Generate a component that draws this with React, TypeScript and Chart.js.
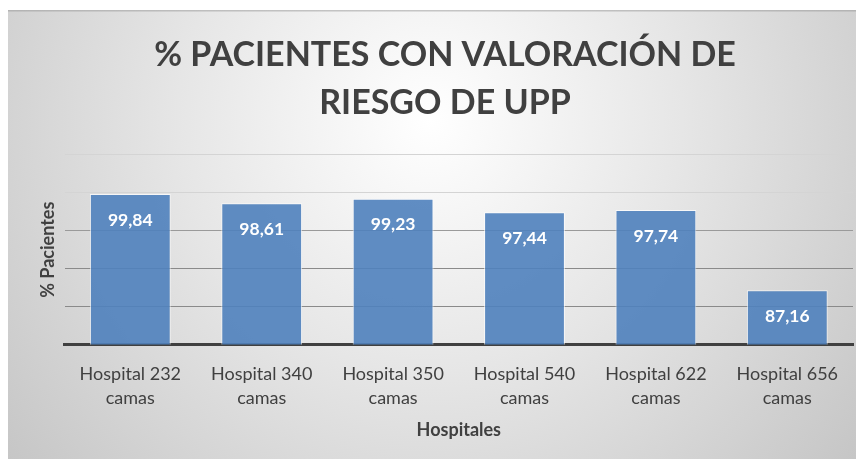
import React, { useEffect, useRef } from "react";
import { Chart, registerables } from "chart.js";

Chart.register(...registerables);

const categories: string[][] = [
  ["Hospital 232", "camas"],
  ["Hospital 340", "camas"],
  ["Hospital 350", "camas"],
  ["Hospital 540", "camas"],
  ["Hospital 622", "camas"],
  ["Hospital 656", "camas"],
];
const values: number[] = [99.84, 98.61, 99.23, 97.44, 97.74, 87.16];
const titleLines: string[] = ["% PACIENTES CON VALORACIÓN DE", "RIESGO DE UPP"];
const yTitle = "% Pacientes";
const xTitle = "Hospitales";

const FONT = "Lato, 'Open Sans', sans-serif";

const bgPlugin = {
  id: "bgGradient",
  beforeDraw(chart: any) {
    const { ctx, width, height } = chart;
    ctx.save();
    const g = ctx.createRadialGradient(422, 110, 0, 422, 110, 560);
    g.addColorStop(0, "#ffffff");
    g.addColorStop(0.45, "#e6e6e6");
    g.addColorStop(1, "#c4c4c4");
    ctx.fillStyle = g;
    ctx.fillRect(0, 0, width, height);
    ctx.fillStyle = "rgba(150,150,150,0.5)";
    ctx.fillRect(0, 0, width, 1.5);
    ctx.restore();
  },
};

const labelPlugin = {
  id: "valueLabels",
  afterDatasetsDraw(chart: any) {
    const { ctx } = chart;
    const meta = chart.getDatasetMeta(0);
    ctx.save();
    ctx.fillStyle = "#ffffff";
    ctx.font = `bold 17.5px ${FONT}`;
    ctx.textAlign = "center";
    ctx.textBaseline = "middle";
    meta.data.forEach((el: any, i: number) => {
      const txt = values[i].toFixed(2).replace(".", ",");
      ctx.fillText(txt, el.x, el.y + 26);
    });
    ctx.restore();
  },
};

export default function App() {
  const ref = useRef<HTMLCanvasElement | null>(null);
  useEffect(() => {
    document.body.style.overflow = "hidden";
    if (!ref.current) return;
    const chart = new Chart(ref.current, {
      type: "bar",
      data: {
        labels: categories,
        datasets: [
          {
            data: values,
            backgroundColor: "rgba(79,129,189,0.9)",
            borderColor: "rgba(255,255,255,0.7)",
            borderWidth: 1,
            barPercentage: 0.615,
            categoryPercentage: 1,
          },
        ],
      },
      options: {
        animation: false,
        responsive: false,
        maintainAspectRatio: false,
        layout: { padding: { left: 29, right: 11, top: 0, bottom: 18 } },
        plugins: {
          legend: { display: false },
          tooltip: { enabled: false },
          title: {
            display: true,
            text: titleLines,
            color: "#404040",
            font: { family: FONT, size: 34, weight: "bold", lineHeight: 1.41 },
            padding: { top: 21, bottom: 28 },
          },
        },
        scales: {
          x: {
            grid: { display: false, drawTicks: false },
            border: { display: true, color: "#404040", width: 3 },
            ticks: {
              color: "#404040",
              font: { family: FONT, size: 18, lineHeight: 1.3 },
              padding: 18,
              maxRotation: 0,
              autoSkip: false,
            },
            title: {
              display: true,
              text: xTitle,
              color: "#404040",
              font: { family: FONT, size: 18, weight: "bold" },
              padding: { top: -8, bottom: 0 },
            },
          },
          y: {
            min: 80,
            max: 105,
            ticks: { display: false, stepSize: 5 },
            border: { display: false },
            grid: {
              drawTicks: false,
              color: (c: any) => {
                const v = c.tick?.value;
                if (v >= 100) return "#d4d4d4";
                if (v === 95) return "#9a9a9a";
                return "#8a8a8a";
              },
              lineWidth: 1,
            },
            title: {
              display: true,
              text: yTitle,
              color: "#404040",
              font: { family: FONT, size: 18, weight: "bold" },
              padding: { top: 0, bottom: 6 },
            },
          },
        },
      },
      plugins: [bgPlugin, labelPlugin],
    } as any);
    return () => chart.destroy();
  }, []);
  return (
    <div style={{ marginTop: 2, width: 856, height: 449 }}>
      <canvas ref={ref} width={856} height={449} style={{ display: "block" }} />
    </div>
  );
}
